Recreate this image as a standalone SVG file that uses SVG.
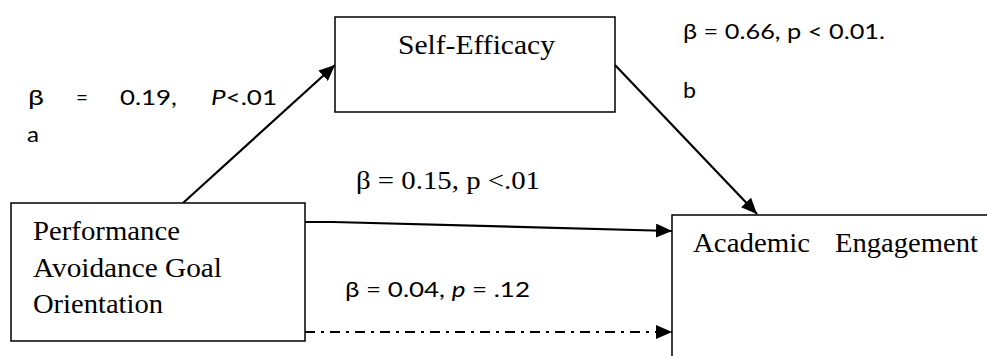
<svg xmlns="http://www.w3.org/2000/svg" width="987" height="356" viewBox="0 0 987 356">
<style>
.box{fill:#fff;stroke:#000;stroke-width:1.5}
.serif{font-family:"Liberation Serif","Times New Roman",serif;font-size:28px;fill:#000}
.lab{font-family:"Liberation Serif","Times New Roman",serif;font-size:25px;fill:#000}
.sans{font-family:Lato,"Open Sans",sans-serif;font-size:22px;fill:#000}
.line{stroke:#000;stroke-width:2.2;fill:none}
</style>
<defs>
<marker id="arr" markerUnits="userSpaceOnUse" markerWidth="18" markerHeight="14" refX="16" refY="7" orient="auto">
<path d="M0,0 L16,7 L0,14 Z" fill="#000"/>
</marker>
</defs>
<rect width="987" height="356" fill="#fff"/>
<g id="connectors">
<line class="line" x1="183" y1="203" x2="335" y2="65" marker-end="url(#arr)"/>
<line class="line" x1="615" y1="65" x2="757" y2="214" marker-end="url(#arr)"/>
<path class="line" d="M305,222 L333,222 L672,231" marker-end="url(#arr)"/>
<line class="line" x1="305" y1="332" x2="672" y2="332" stroke-dasharray="10 6 3 6" marker-end="url(#arr)"/>
</g>
<g id="self-efficacy">
<rect class="box" x="335" y="17" width="280" height="95"/>
<text class="serif" x="398" y="54" textLength="157" lengthAdjust="spacingAndGlyphs">Self-Efficacy</text>
</g>
<g id="performance">
<rect class="box" x="11" y="203" width="294" height="138"/>
<text class="serif" x="33" y="240" textLength="147" lengthAdjust="spacingAndGlyphs">Performance</text>
<text class="serif" x="33" y="277" textLength="189" lengthAdjust="spacingAndGlyphs">Avoidance Goal</text>
<text class="serif" x="33" y="313" textLength="130" lengthAdjust="spacingAndGlyphs">Orientation</text>
</g>
<g id="engagement">
<rect class="box" x="672" y="215" width="330" height="160"/>
<text class="serif" x="693" y="252" textLength="117" lengthAdjust="spacingAndGlyphs">Academic</text>
<text class="serif" x="835" y="252" textLength="143" lengthAdjust="spacingAndGlyphs">Engagement</text>
</g>
<g id="labels">
<text class="sans" x="28" y="105" textLength="16" lengthAdjust="spacingAndGlyphs">β</text>
<text class="sans" x="76" y="105" textLength="12" lengthAdjust="spacingAndGlyphs">=</text>
<text class="sans" x="120" y="105" textLength="57" lengthAdjust="spacingAndGlyphs">0.19,</text>
<text class="sans" x="211" y="105" textLength="66" lengthAdjust="spacingAndGlyphs"><tspan font-style="italic">P</tspan>&lt;.01</text>
<text class="sans" x="27" y="142" textLength="12" lengthAdjust="spacingAndGlyphs">a</text>
<text class="sans" x="683" y="39" textLength="202" lengthAdjust="spacingAndGlyphs">β = 0.66, p &lt; 0.01.</text>
<text class="sans" x="683" y="98" textLength="13" lengthAdjust="spacingAndGlyphs">b</text>
<text class="lab" x="356" y="189" textLength="184" lengthAdjust="spacingAndGlyphs">β = 0.15, p &lt;.01</text>
<text class="sans" x="345" y="297" textLength="185" lengthAdjust="spacingAndGlyphs">β = 0.04, <tspan font-style="italic">p</tspan> = .12</text>
</g>
</svg>
